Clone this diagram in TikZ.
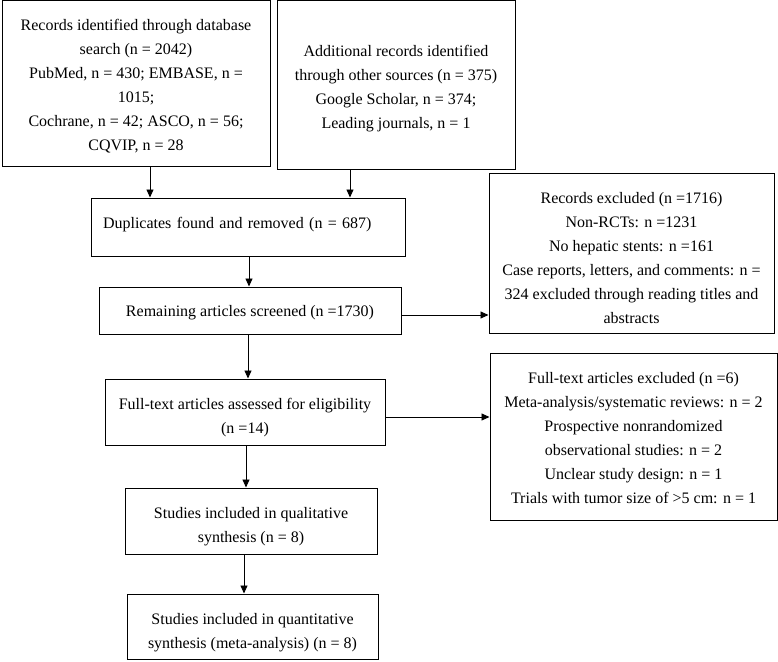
\documentclass[tikz,border=0pt]{standalone}
\usepackage{fontspec}
\setmainfont{Liberation Serif}
\usetikzlibrary{arrows.meta,calc}
\newcommand\mydrop[1]{\rule{0pt}{#1}}
\begin{document}
\begin{tikzpicture}[x=1pt,y=-1pt,
  box/.style={draw, line width=1pt, inner sep=2pt, align=center,
              font=\fontsize{16}{24}\selectfont},
  arr/.style={line width=0.9pt, -{Triangle[length=8pt,width=7pt]}}]
\useasboundingbox (0,0) rectangle (778,661);

\node[box, minimum width=268pt, minimum height=165pt] (A) at (136,83.5)
  {\mydrop{17.5pt}Records identified through database\\search (n = 2042)\\PubMed, n = 430; EMBASE, n =\\1015;\\Cochrane, n = 42; ASCO, n = 56;\\CQVIP, n = 28};
\node[box, minimum width=238pt, minimum height=168pt] (B) at (396,85)
  {\mydrop{17.5pt}Additional records identified\\through other sources (n = 375)\\Google Scholar, n = 374;\\Leading journals, n = 1};
\node[box, minimum width=314pt, minimum height=58pt, align=left,
      text width=290pt, inner xsep=12pt, text depth=8pt] (D) at (248,227)
  {Duplicates found and removed (n = 687)};
\node[box, minimum width=302pt, minimum height=47pt] (R) at (250,310.5)
  {\mydrop{15.5pt}Remaining articles screened (n =1730)};
\node[box, minimum width=285pt, minimum height=160pt] (E1) at (631.5,253)
  {\mydrop{21.5pt}Records excluded (n =1716)\\Non-RCTs: n =1231\\No hepatic stents: n =161\\Case reports, letters, and comments: n =\\324 excluded through reading titles and\\abstracts};
\node[box, minimum width=280pt, minimum height=66pt] (F) at (245,412)
  {\mydrop{21.5pt}Full-text articles assessed for eligibility\\(n =14)};
\node[box, minimum width=287pt, minimum height=167pt] (E2) at (633.5,436.5)
  {\mydrop{13.5pt}Full-text articles excluded (n =6)\\Meta-analysis/systematic reviews: n = 2\\Prospective nonrandomized\\observational studies: n = 2\\Unclear study design: n = 1\\Trials with tumor size of >5 cm: n = 1};
\node[box, minimum width=252pt, minimum height=66pt] (Q1) at (251,521)
  {\mydrop{21.5pt}Studies included in qualitative\\synthesis (n = 8)};
\node[box, minimum width=251pt, minimum height=65pt] (Q2) at (252.5,626.5)
  {\mydrop{23.5pt}Studies included in quantitative\\synthesis (meta-analysis) (n = 8)};

\draw[arr] ([xshift=14pt]A.south) -- ([xshift=14pt]A.south |- D.north);
\draw[arr] ([xshift=-46pt]B.south) -- ([xshift=-46pt]B.south |- D.north);
\draw[arr] ([xshift=1pt]D.south) -- ([xshift=1pt]D.south |- R.north);
\draw[arr] ([yshift=-4.5pt]R.east) -- ([yshift=-4.5pt]R.east -| E1.west);
\draw[arr] ([xshift=-2pt]R.south) -- ([xshift=-2pt]R.south |- F.north);
\draw[arr] ([yshift=-5pt]F.east) -- ([yshift=-5pt]F.east -| E2.west);
\draw[arr] ([xshift=1pt]F.south) -- ([xshift=1pt]F.south |- Q1.north);
\draw[arr] ([xshift=-7pt]Q1.south) -- ([xshift=-7pt]Q1.south |- Q2.north);
\end{tikzpicture}
\end{document}
